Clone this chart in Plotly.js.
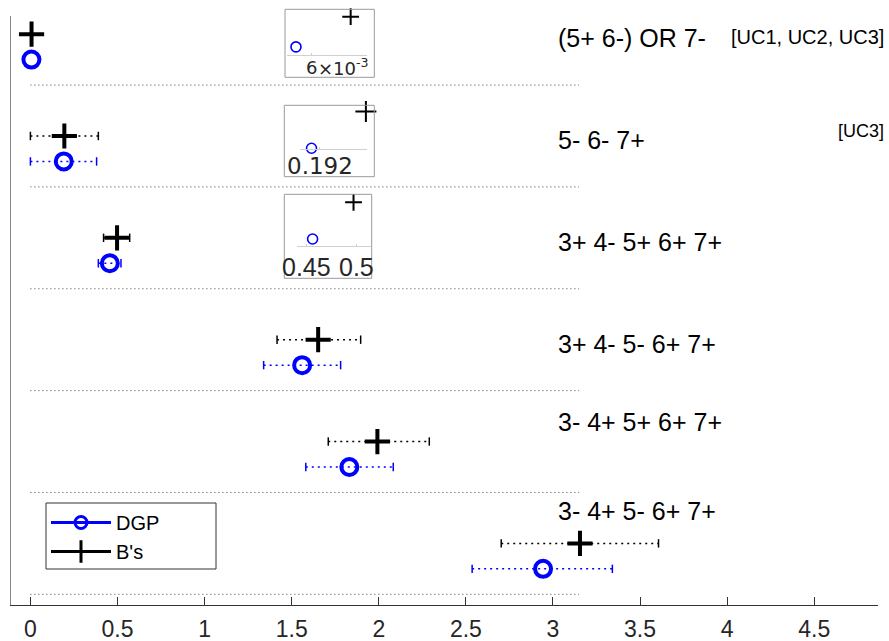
<!DOCTYPE html>
<html>
<head>
<meta charset="utf-8">
<script src="https://cdn.plot.ly/plotly-3.0.1.min.js"></script>
<style>html,body{margin:0;padding:0;background:#fff;}#chart{width:889px;height:641px;}</style>
</head>
<body>
<div id="chart"></div>
<script>
// ---- data (rows listed top to bottom) ----
const labels = ["(5+ 6-) OR 7-", "5- 6- 7+", "3+ 4- 5+ 6+ 7+", "3+ 4- 5- 6+ 7+", "3- 4+ 5+ 6+ 7+", "3- 4+ 5- 6+ 7+"];
const ucNotes = ["[UC1, UC2, UC3]", "[UC3]", "", "", "", ""];
const dgp   = [0.0058, 0.1915, 0.456, 1.560, 1.831, 2.943];
const dgpLo = [null,   0.0,    0.39,  1.339, 1.581, 2.536];
const dgpHi = [null,   0.38,   0.52,  1.781, 2.083, 3.341];
const bs    = [0.0065, 0.1949, 0.4975, 1.652, 1.992, 3.155];
const bsLo  = [null,   0.0,    0.42,  1.416, 1.710, 2.703];
const bsHi  = [null,   0.39,   0.57,  1.896, 2.29,  3.606];
const xTicks = [0, 0.5, 1, 1.5, 2, 2.5, 3, 3.5, 4, 4.5];
const xTickText = ["0", "0.5", "1", "1.5", "2", "2.5", "3", "3.5", "4", "4.5"];
const inset1Ticks = [0.006], inset1TickText = ["6"], inset1Exp = "×10<sup>-3</sup>";
const inset2Ticks = [0.192], inset2TickText = ["0.192"];
const inset3Ticks = [0.45, 0.5], inset3TickText = ["0.45", "0.5"];

// ---- layout helpers ----
const N = labels.length;
const rowY = i => N - 1 - i;          // separator level of row i
const dgpOff = 0.25, bsOff = 0.5;
const sepStart = 0, sepEnd = 3.15;
const labelOff = [0.46, 0.46, 0.46, 0.46, 0.69, 0.82];
const BLUE = "#0000ff";
const FONT = "Liberation Sans, Arial, sans-serif";

function errTrace(lo, hi, off, color) {
  const x = [], y = [], cx = [], cy = [];
  lo.forEach((l, i) => {
    if (l === null) return;
    const yy = rowY(i) + off;
    x.push(l, hi[i], null); y.push(yy, yy, null);
    cx.push(l, hi[i]); cy.push(yy, yy);
  });
  return [
    {x, y, type: "scatter", mode: "lines", line: {color, width: 1.5, dash: "2px,4px"},
     showlegend: false, hoverinfo: "skip"},
    {x: cx, y: cy, type: "scatter", mode: "markers", cliponaxis: false,
     marker: {symbol: "line-ns-open", size: 6, color, line: {color, width: 1.5}},
     showlegend: false, hoverinfo: "skip"}
  ];
}

const sepX = [], sepY = [];
labels.forEach((_, i) => { sepX.push(sepStart, sepEnd, null); sepY.push(rowY(i), rowY(i), null); });

const traces = [
  {x: sepX, y: sepY, type: "scatter", mode: "lines", line: {color: "#444", width: 1, dash: "1px,3px"},
   showlegend: false, hoverinfo: "skip"},
  ...errTrace(bsLo, bsHi, bsOff, "#000"),
  ...errTrace(dgpLo, dgpHi, dgpOff, BLUE),
  {x: dgp, y: dgp.map((_, i) => rowY(i) + dgpOff), type: "scatter", mode: "markers", cliponaxis: false,
   marker: {symbol: "circle-open", size: 16, color: BLUE, line: {color: BLUE, width: 4}}, showlegend: false},
  {x: bs, y: bs.map((_, i) => rowY(i) + bsOff), type: "scatter", mode: "markers", cliponaxis: false,
   marker: {symbol: "cross-thin-open", size: 18, color: "#000", line: {color: "#000", width: 4}}, showlegend: false},
  // legend entries
  {x: [null], y: [null], type: "scatter", mode: "lines+markers", name: "DGP",
   line: {color: BLUE, width: 3}, marker: {symbol: "circle-open", size: 12, color: BLUE, line: {color: BLUE, width: 3}}},
  {x: [null], y: [null], type: "scatter", mode: "lines+markers", name: "B's",
   line: {color: "#000", width: 3}, marker: {symbol: "cross-thin-open", size: 16, color: "#000", line: {color: "#000", width: 3}}}
];

// insets: rows 0,1,2 zoomed
const insetRows = [0, 1, 2];
const insetCross = [12, 15, 12];
insetRows.forEach((r, k) => {
  const xa = "x" + (k + 2), ya = "y" + (k + 2);
  traces.push({x: [dgp[r]], y: [rowY(r) + dgpOff], xaxis: xa, yaxis: ya, type: "scatter", mode: "markers",
    cliponaxis: false, showlegend: false,
    marker: {symbol: "circle-open", size: 10, color: BLUE, line: {color: BLUE, width: 1.6}}});
  traces.push({x: [bs[r]], y: [rowY(r) + bsOff], xaxis: xa, yaxis: ya, type: "scatter", mode: "markers",
    cliponaxis: false, showlegend: false,
    marker: {symbol: "cross-thin-open", size: insetCross[k], color: "#000", line: {color: "#000", width: 2}}});
});

// pixel -> paper helpers (plot area: x 11..878, y 16..605)
const L = 11, PW = 867, T = 16, PH = 589;
const px = p => (p - L) / PW;
const py = p => (T + PH - p) / PH;

function insetX(d0, d1, range, tv, anchor) {
  return {domain: [px(d0), px(d1)], range, anchor, showgrid: false, zeroline: false,
    showline: true, linecolor: "#d0d0d0", linewidth: 1, ticks: "inside", ticklen: 2, tickcolor: "#d0d0d0",
    tickvals: tv, showticklabels: false, fixedrange: true};
}
function insetY(d0, d1, range, anchor) {
  return {domain: [py(d1), py(d0)], range, visible: false, fixedrange: true, anchor};
}

const annotations = [];
labels.forEach((t, i) => {
  annotations.push({x: 3.015, y: rowY(i) + labelOff[i], xref: "x", yref: "y", text: t, showarrow: false,
    xanchor: "left", yanchor: "middle", font: {family: FONT, size: 25, color: "#000"}});
});
const ucY = [5.47, 4.55];
ucNotes.forEach((t, i) => {
  if (!t) return;
  annotations.push({x: px(886), y: ucY[i], xref: "paper", yref: "y", text: t, showarrow: false,
    xanchor: "right", yanchor: "middle", font: {family: FONT, size: i === 0 ? 20 : 18, color: "#000"}});
});
// inset tick labels, placed through each inset's own x scale
function insetLabels(xref, vals, texts, yPix, size, family) {
  vals.forEach((v, j) => annotations.push({x: v, xref, y: py(yPix), yref: "paper", text: texts[j],
    showarrow: false, xanchor: "center", yanchor: "middle", font: {family, size, color: "#262626"}}));
}
insetLabels("x2", inset1Ticks, inset1TickText, 68, 18, "DejaVu Sans");
insetLabels("x3", inset2Ticks, inset2TickText, 166, 23, "DejaVu Sans");
insetLabels("x4", inset3Ticks, inset3TickText, 267, 25, FONT);
annotations.push({x: px(316), y: py(67), xref: "paper", yref: "paper", text: inset1Exp, showarrow: false,
  xanchor: "left", yanchor: "middle", font: {family: "DejaVu Sans", size: 18, color: "#262626"}});

function box(x0, y0, x1, y1, color) {
  return {type: "rect", xref: "paper", yref: "paper", x0: px(x0), x1: px(x1), y0: py(y1), y1: py(y0),
    line: {color, width: 1}, fillcolor: "rgba(0,0,0,0)", layer: "above"};
}

const layout = {
  width: 889, height: 641,
  margin: {l: L, r: 889 - L - PW, t: T, b: 641 - T - PH, pad: 0},
  paper_bgcolor: "#fff", plot_bgcolor: "#fff",
  showlegend: true,
  legend: {x: px(46), y: py(503), xanchor: "left", yanchor: "top", bgcolor: "rgba(0,0,0,0)",
    borderwidth: 0, itemwidth: 60, tracegroupgap: 0,
    font: {family: FONT, size: 20, color: "#000"}},
  xaxis: {range: [-0.1114, 4.866], tickvals: xTicks, ticktext: xTickText, ticks: "inside", ticklen: 8,
    tickcolor: "#333", tickwidth: 1, showline: true, linecolor: "#333", linewidth: 1, ticklabelstandoff: 3,
    showgrid: false, zeroline: false, tickfont: {family: FONT, size: 23, color: "#262626"}, fixedrange: true},
  yaxis: {range: [-0.105, 5.678], showline: true, linecolor: "#888", linewidth: 1, showgrid: false,
    zeroline: false, showticklabels: false, ticks: "", fixedrange: true},
  xaxis2: insetX(287, 367, [0.005685, 0.006709], inset1Ticks, "y2"),
  yaxis2: insetY(16, 55, [5.183, 5.506], "x2"),
  xaxis3: insetX(300, 367, [0.19078, 0.194969], inset2Ticks, "y3"),
  yaxis3: insetY(107, 149, [4.245, 4.5315], "x3"),
  xaxis4: insetX(296.7, 370.7, [0.43986, 0.51491], inset3Ticks, "y4"),
  yaxis4: insetY(196, 246, [3.2023, 3.5429], "x4"),
  shapes: [box(285, 9.3, 374.3, 77.3, "#999"), box(284.3, 105.3, 374.3, 176.7, "#999"),
           box(284.3, 194.3, 371.7, 278.3, "#999"), box(46, 503, 216, 569, "#333")],
  annotations
};

Plotly.newPlot("chart", traces, layout, {staticPlot: true, displayModeBar: false});
</script>
</body>
</html>
